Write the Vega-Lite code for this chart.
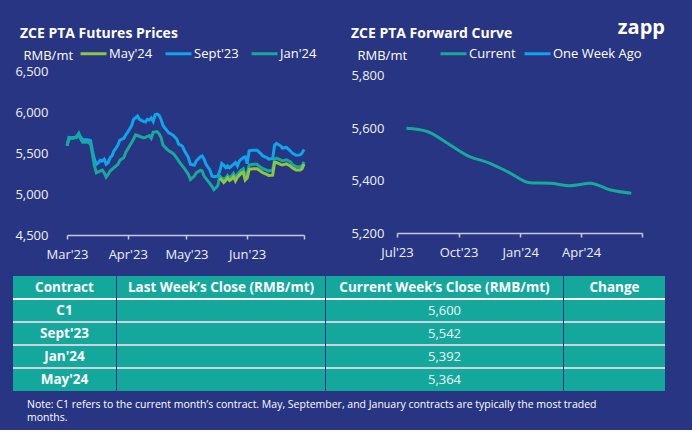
{
  "$schema": "https://vega.github.io/schema/vega-lite/v6.json",
  "background": "#283583",
  "padding": {"left": 13, "top": 18, "right": 27, "bottom": 6},
  "title": {"text": "zapp", "anchor": "end", "orient": "top", "frame": "bounds", "offset": -11, "font": "Open Sans", "fontSize": 20, "fontWeight": "bold", "color": "#ffffff"},
  "datasets": {
    "futures": [
      {"date": "2023-03-01", "contract": "Sept'23", "price": 5588},
      {"date": "2023-03-02", "contract": "Sept'23", "price": 5691},
      {"date": "2023-03-03", "contract": "Sept'23", "price": 5687},
      {"date": "2023-03-05", "contract": "Sept'23", "price": 5691},
      {"date": "2023-03-06", "contract": "Sept'23", "price": 5704},
      {"date": "2023-03-07", "contract": "Sept'23", "price": 5741},
      {"date": "2023-03-08", "contract": "Sept'23", "price": 5691},
      {"date": "2023-03-09", "contract": "Sept'23", "price": 5663},
      {"date": "2023-03-11", "contract": "Sept'23", "price": 5663},
      {"date": "2023-03-12", "contract": "Sept'23", "price": 5659},
      {"date": "2023-03-13", "contract": "Sept'23", "price": 5650},
      {"date": "2023-03-14", "contract": "Sept'23", "price": 5527},
      {"date": "2023-03-15", "contract": "Sept'23", "price": 5424},
      {"date": "2023-03-16", "contract": "Sept'23", "price": 5362},
      {"date": "2023-03-17", "contract": "Sept'23", "price": 5383},
      {"date": "2023-03-18", "contract": "Sept'23", "price": 5411},
      {"date": "2023-03-19", "contract": "Sept'23", "price": 5403},
      {"date": "2023-03-20", "contract": "Sept'23", "price": 5424},
      {"date": "2023-03-21", "contract": "Sept'23", "price": 5362},
      {"date": "2023-03-22", "contract": "Sept'23", "price": 5383},
      {"date": "2023-03-23", "contract": "Sept'23", "price": 5444},
      {"date": "2023-03-24", "contract": "Sept'23", "price": 5465},
      {"date": "2023-03-25", "contract": "Sept'23", "price": 5527},
      {"date": "2023-03-26", "contract": "Sept'23", "price": 5560},
      {"date": "2023-03-27", "contract": "Sept'23", "price": 5597},
      {"date": "2023-03-28", "contract": "Sept'23", "price": 5658},
      {"date": "2023-03-30", "contract": "Sept'23", "price": 5679},
      {"date": "2023-03-31", "contract": "Sept'23", "price": 5720},
      {"date": "2023-04-01", "contract": "Sept'23", "price": 5753},
      {"date": "2023-04-03", "contract": "Sept'23", "price": 5835},
      {"date": "2023-04-04", "contract": "Sept'23", "price": 5910},
      {"date": "2023-04-06", "contract": "Sept'23", "price": 5951},
      {"date": "2023-04-07", "contract": "Sept'23", "price": 5910},
      {"date": "2023-04-09", "contract": "Sept'23", "price": 5885},
      {"date": "2023-04-10", "contract": "Sept'23", "price": 5877},
      {"date": "2023-04-11", "contract": "Sept'23", "price": 5910},
      {"date": "2023-04-12", "contract": "Sept'23", "price": 5901},
      {"date": "2023-04-13", "contract": "Sept'23", "price": 5926},
      {"date": "2023-04-14", "contract": "Sept'23", "price": 5885},
      {"date": "2023-04-15", "contract": "Sept'23", "price": 5967},
      {"date": "2023-04-16", "contract": "Sept'23", "price": 5975},
      {"date": "2023-04-17", "contract": "Sept'23", "price": 5959},
      {"date": "2023-04-18", "contract": "Sept'23", "price": 5910},
      {"date": "2023-04-19", "contract": "Sept'23", "price": 5835},
      {"date": "2023-04-21", "contract": "Sept'23", "price": 5774},
      {"date": "2023-04-22", "contract": "Sept'23", "price": 5745},
      {"date": "2023-04-24", "contract": "Sept'23", "price": 5720},
      {"date": "2023-04-26", "contract": "Sept'23", "price": 5671},
      {"date": "2023-04-27", "contract": "Sept'23", "price": 5609},
      {"date": "2023-04-28", "contract": "Sept'23", "price": 5597},
      {"date": "2023-04-29", "contract": "Sept'23", "price": 5580},
      {"date": "2023-04-30", "contract": "Sept'23", "price": 5527},
      {"date": "2023-05-02", "contract": "Sept'23", "price": 5444},
      {"date": "2023-05-03", "contract": "Sept'23", "price": 5362},
      {"date": "2023-05-05", "contract": "Sept'23", "price": 5350},
      {"date": "2023-05-06", "contract": "Sept'23", "price": 5403},
      {"date": "2023-05-08", "contract": "Sept'23", "price": 5453},
      {"date": "2023-05-09", "contract": "Sept'23", "price": 5465},
      {"date": "2023-05-10", "contract": "Sept'23", "price": 5424},
      {"date": "2023-05-11", "contract": "Sept'23", "price": 5362},
      {"date": "2023-05-13", "contract": "Sept'23", "price": 5292},
      {"date": "2023-05-14", "contract": "Sept'23", "price": 5218},
      {"date": "2023-05-15", "contract": "Sept'23", "price": 5210},
      {"date": "2023-05-17", "contract": "Sept'23", "price": 5218},
      {"date": "2023-05-18", "contract": "Sept'23", "price": 5280},
      {"date": "2023-05-19", "contract": "Sept'23", "price": 5374},
      {"date": "2023-05-20", "contract": "Sept'23", "price": 5354},
      {"date": "2023-05-21", "contract": "Sept'23", "price": 5321},
      {"date": "2023-05-22", "contract": "Sept'23", "price": 5341},
      {"date": "2023-05-23", "contract": "Sept'23", "price": 5321},
      {"date": "2023-05-25", "contract": "Sept'23", "price": 5362},
      {"date": "2023-05-26", "contract": "Sept'23", "price": 5383},
      {"date": "2023-05-27", "contract": "Sept'23", "price": 5341},
      {"date": "2023-05-28", "contract": "Sept'23", "price": 5403},
      {"date": "2023-05-30", "contract": "Sept'23", "price": 5444},
      {"date": "2023-05-31", "contract": "Sept'23", "price": 5453},
      {"date": "2023-06-01", "contract": "Sept'23", "price": 5370},
      {"date": "2023-06-02", "contract": "Sept'23", "price": 5527},
      {"date": "2023-06-04", "contract": "Sept'23", "price": 5535},
      {"date": "2023-06-06", "contract": "Sept'23", "price": 5535},
      {"date": "2023-06-07", "contract": "Sept'23", "price": 5514},
      {"date": "2023-06-09", "contract": "Sept'23", "price": 5465},
      {"date": "2023-06-11", "contract": "Sept'23", "price": 5444},
      {"date": "2023-06-12", "contract": "Sept'23", "price": 5424},
      {"date": "2023-06-14", "contract": "Sept'23", "price": 5432},
      {"date": "2023-06-15", "contract": "Sept'23", "price": 5597},
      {"date": "2023-06-16", "contract": "Sept'23", "price": 5617},
      {"date": "2023-06-18", "contract": "Sept'23", "price": 5588},
      {"date": "2023-06-19", "contract": "Sept'23", "price": 5560},
      {"date": "2023-06-21", "contract": "Sept'23", "price": 5568},
      {"date": "2023-06-23", "contract": "Sept'23", "price": 5527},
      {"date": "2023-06-24", "contract": "Sept'23", "price": 5498},
      {"date": "2023-06-26", "contract": "Sept'23", "price": 5473},
      {"date": "2023-06-28", "contract": "Sept'23", "price": 5477},
      {"date": "2023-06-29", "contract": "Sept'23", "price": 5498},
      {"date": "2023-06-30", "contract": "Sept'23", "price": 5542},
      {"date": "2023-03-01", "contract": "Jan'24", "price": 5588},
      {"date": "2023-03-02", "contract": "Jan'24", "price": 5671},
      {"date": "2023-03-04", "contract": "Jan'24", "price": 5679},
      {"date": "2023-03-06", "contract": "Jan'24", "price": 5691},
      {"date": "2023-03-07", "contract": "Jan'24", "price": 5733},
      {"date": "2023-03-08", "contract": "Jan'24", "price": 5671},
      {"date": "2023-03-09", "contract": "Jan'24", "price": 5630},
      {"date": "2023-03-12", "contract": "Jan'24", "price": 5630},
      {"date": "2023-03-13", "contract": "Jan'24", "price": 5609},
      {"date": "2023-03-14", "contract": "Jan'24", "price": 5486},
      {"date": "2023-03-15", "contract": "Jan'24", "price": 5341},
      {"date": "2023-03-16", "contract": "Jan'24", "price": 5259},
      {"date": "2023-03-17", "contract": "Jan'24", "price": 5271},
      {"date": "2023-03-19", "contract": "Jan'24", "price": 5292},
      {"date": "2023-03-20", "contract": "Jan'24", "price": 5259},
      {"date": "2023-03-21", "contract": "Jan'24", "price": 5206},
      {"date": "2023-03-22", "contract": "Jan'24", "price": 5239},
      {"date": "2023-03-23", "contract": "Jan'24", "price": 5280},
      {"date": "2023-03-25", "contract": "Jan'24", "price": 5321},
      {"date": "2023-03-27", "contract": "Jan'24", "price": 5362},
      {"date": "2023-03-28", "contract": "Jan'24", "price": 5411},
      {"date": "2023-03-30", "contract": "Jan'24", "price": 5444},
      {"date": "2023-03-31", "contract": "Jan'24", "price": 5506},
      {"date": "2023-04-02", "contract": "Jan'24", "price": 5588},
      {"date": "2023-04-04", "contract": "Jan'24", "price": 5671},
      {"date": "2023-04-05", "contract": "Jan'24", "price": 5720},
      {"date": "2023-04-07", "contract": "Jan'24", "price": 5704},
      {"date": "2023-04-09", "contract": "Jan'24", "price": 5683},
      {"date": "2023-04-10", "contract": "Jan'24", "price": 5691},
      {"date": "2023-04-12", "contract": "Jan'24", "price": 5712},
      {"date": "2023-04-13", "contract": "Jan'24", "price": 5679},
      {"date": "2023-04-14", "contract": "Jan'24", "price": 5753},
      {"date": "2023-04-16", "contract": "Jan'24", "price": 5761},
      {"date": "2023-04-17", "contract": "Jan'24", "price": 5733},
      {"date": "2023-04-18", "contract": "Jan'24", "price": 5691},
      {"date": "2023-04-19", "contract": "Jan'24", "price": 5597},
      {"date": "2023-04-21", "contract": "Jan'24", "price": 5547},
      {"date": "2023-04-22", "contract": "Jan'24", "price": 5527},
      {"date": "2023-04-24", "contract": "Jan'24", "price": 5498},
      {"date": "2023-04-25", "contract": "Jan'24", "price": 5473},
      {"date": "2023-04-27", "contract": "Jan'24", "price": 5403},
      {"date": "2023-04-28", "contract": "Jan'24", "price": 5370},
      {"date": "2023-04-30", "contract": "Jan'24", "price": 5309},
      {"date": "2023-05-02", "contract": "Jan'24", "price": 5239},
      {"date": "2023-05-03", "contract": "Jan'24", "price": 5177},
      {"date": "2023-05-05", "contract": "Jan'24", "price": 5218},
      {"date": "2023-05-06", "contract": "Jan'24", "price": 5259},
      {"date": "2023-05-08", "contract": "Jan'24", "price": 5288},
      {"date": "2023-05-09", "contract": "Jan'24", "price": 5280},
      {"date": "2023-05-10", "contract": "Jan'24", "price": 5218},
      {"date": "2023-05-12", "contract": "Jan'24", "price": 5156},
      {"date": "2023-05-14", "contract": "Jan'24", "price": 5094},
      {"date": "2023-05-15", "contract": "Jan'24", "price": 5053},
      {"date": "2023-05-16", "contract": "Jan'24", "price": 5074},
      {"date": "2023-05-17", "contract": "Jan'24", "price": 5103},
      {"date": "2023-05-18", "contract": "Jan'24", "price": 5218},
      {"date": "2023-05-19", "contract": "Jan'24", "price": 5197},
      {"date": "2023-05-20", "contract": "Jan'24", "price": 5177},
      {"date": "2023-05-21", "contract": "Jan'24", "price": 5197},
      {"date": "2023-05-22", "contract": "Jan'24", "price": 5226},
      {"date": "2023-05-23", "contract": "Jan'24", "price": 5197},
      {"date": "2023-05-24", "contract": "Jan'24", "price": 5218},
      {"date": "2023-05-25", "contract": "Jan'24", "price": 5251},
      {"date": "2023-05-26", "contract": "Jan'24", "price": 5197},
      {"date": "2023-05-27", "contract": "Jan'24", "price": 5239},
      {"date": "2023-05-28", "contract": "Jan'24", "price": 5267},
      {"date": "2023-05-29", "contract": "Jan'24", "price": 5292},
      {"date": "2023-05-30", "contract": "Jan'24", "price": 5309},
      {"date": "2023-05-31", "contract": "Jan'24", "price": 5218},
      {"date": "2023-06-01", "contract": "Jan'24", "price": 5239},
      {"date": "2023-06-02", "contract": "Jan'24", "price": 5354},
      {"date": "2023-06-04", "contract": "Jan'24", "price": 5362},
      {"date": "2023-06-06", "contract": "Jan'24", "price": 5362},
      {"date": "2023-06-07", "contract": "Jan'24", "price": 5341},
      {"date": "2023-06-09", "contract": "Jan'24", "price": 5309},
      {"date": "2023-06-11", "contract": "Jan'24", "price": 5292},
      {"date": "2023-06-12", "contract": "Jan'24", "price": 5280},
      {"date": "2023-06-14", "contract": "Jan'24", "price": 5292},
      {"date": "2023-06-15", "contract": "Jan'24", "price": 5424},
      {"date": "2023-06-16", "contract": "Jan'24", "price": 5436},
      {"date": "2023-06-18", "contract": "Jan'24", "price": 5416},
      {"date": "2023-06-19", "contract": "Jan'24", "price": 5403},
      {"date": "2023-06-21", "contract": "Jan'24", "price": 5416},
      {"date": "2023-06-23", "contract": "Jan'24", "price": 5395},
      {"date": "2023-06-24", "contract": "Jan'24", "price": 5362},
      {"date": "2023-06-26", "contract": "Jan'24", "price": 5333},
      {"date": "2023-06-28", "contract": "Jan'24", "price": 5333},
      {"date": "2023-06-29", "contract": "Jan'24", "price": 5341},
      {"date": "2023-06-30", "contract": "Jan'24", "price": 5392},
      {"date": "2023-05-18", "contract": "May'24", "price": 5190},
      {"date": "2023-05-19", "contract": "May'24", "price": 5170},
      {"date": "2023-05-20", "contract": "May'24", "price": 5140},
      {"date": "2023-05-21", "contract": "May'24", "price": 5165},
      {"date": "2023-05-22", "contract": "May'24", "price": 5195},
      {"date": "2023-05-23", "contract": "May'24", "price": 5165},
      {"date": "2023-05-24", "contract": "May'24", "price": 5180},
      {"date": "2023-05-25", "contract": "May'24", "price": 5210},
      {"date": "2023-05-26", "contract": "May'24", "price": 5160},
      {"date": "2023-05-27", "contract": "May'24", "price": 5205},
      {"date": "2023-05-28", "contract": "May'24", "price": 5230},
      {"date": "2023-05-29", "contract": "May'24", "price": 5255},
      {"date": "2023-05-30", "contract": "May'24", "price": 5265},
      {"date": "2023-05-31", "contract": "May'24", "price": 5170},
      {"date": "2023-06-01", "contract": "May'24", "price": 5195},
      {"date": "2023-06-02", "contract": "May'24", "price": 5300},
      {"date": "2023-06-04", "contract": "May'24", "price": 5309},
      {"date": "2023-06-06", "contract": "May'24", "price": 5309},
      {"date": "2023-06-07", "contract": "May'24", "price": 5292},
      {"date": "2023-06-09", "contract": "May'24", "price": 5259},
      {"date": "2023-06-11", "contract": "May'24", "price": 5239},
      {"date": "2023-06-12", "contract": "May'24", "price": 5226},
      {"date": "2023-06-14", "contract": "May'24", "price": 5230},
      {"date": "2023-06-15", "contract": "May'24", "price": 5383},
      {"date": "2023-06-16", "contract": "May'24", "price": 5383},
      {"date": "2023-06-18", "contract": "May'24", "price": 5362},
      {"date": "2023-06-19", "contract": "May'24", "price": 5355},
      {"date": "2023-06-21", "contract": "May'24", "price": 5368},
      {"date": "2023-06-23", "contract": "May'24", "price": 5341},
      {"date": "2023-06-24", "contract": "May'24", "price": 5321},
      {"date": "2023-06-26", "contract": "May'24", "price": 5292},
      {"date": "2023-06-28", "contract": "May'24", "price": 5292},
      {"date": "2023-06-29", "contract": "May'24", "price": 5309},
      {"date": "2023-06-30", "contract": "May'24", "price": 5364}
    ],
    "curve": [
      {"month": "2023-07-15", "series": "Current", "price": 5600},
      {"month": "2023-08-15", "series": "Current", "price": 5588},
      {"month": "2023-09-15", "series": "Current", "price": 5542},
      {"month": "2023-10-15", "series": "Current", "price": 5495},
      {"month": "2023-11-15", "series": "Current", "price": 5468},
      {"month": "2023-12-15", "series": "Current", "price": 5432},
      {"month": "2024-01-15", "series": "Current", "price": 5392},
      {"month": "2024-02-15", "series": "Current", "price": 5390},
      {"month": "2024-03-15", "series": "Current", "price": 5381},
      {"month": "2024-04-15", "series": "Current", "price": 5390},
      {"month": "2024-05-15", "series": "Current", "price": 5364},
      {"month": "2024-06-15", "series": "Current", "price": 5352}
    ],
    "table": [
      {"row": "header", "contract": "Contract", "last": "Last Week’s Close (RMB/mt)", "current": "Current Week’s Close (RMB/mt)", "change": "Change"},
      {"row": "C1", "contract": "C1", "last": "", "current": "5,600", "change": ""},
      {"row": "Sept'23", "contract": "Sept'23", "last": "", "current": "5,542", "change": ""},
      {"row": "Jan'24", "contract": "Jan'24", "last": "", "current": "5,392", "change": ""},
      {"row": "May'24", "contract": "May'24", "last": "", "current": "5,364", "change": ""}
    ]
  },
  "spacing": 15,
  "vconcat": [
    {
      "spacing": 33,
      "resolve": {"scale": {"color": "independent"}, "legend": {"color": "independent"}},
      "hconcat": [
        {
          "spacing": 0,
          "resolve": {"scale": {"color": "independent"}, "legend": {"color": "independent"}},
          "hconcat": [
            {"width": 1, "height": 1, "data": {"values": []}, "mark": "point"},
            {
              "width": 237,
              "height": 164,
              "title": {"text": "ZCE PTA Futures Prices", "anchor": "start", "offset": -2, "dx": 5},
              "data": {"name": "futures"},
              "mark": {"type": "line", "strokeWidth": 3},
              "encoding": {
                "x": {
                  "field": "date", "type": "temporal", "title": null,
                  "scale": {"type": "utc", "domain": [{"year": 2023, "month": 3, "date": 1, "utc": true}, {"year": 2023, "month": 6, "date": 30, "utc": true}]},
                  "axis": {
                    "values": [{"year": 2023, "month": 3, "date": 1, "utc": true}, {"year": 2023, "month": 4, "date": 1, "utc": true}, {"year": 2023, "month": 5, "date": 1, "utc": true}, {"year": 2023, "month": 6, "date": 1, "utc": true}, {"year": 2023, "month": 6, "date": 30, "utc": true}],
                    "labelExpr": "datum.index === 1 ? '' : utcFormat(datum.value, \"%b'%y\")",
                    "labelOverlap": false, "labelFlush": false, "tickSize": 4, "labelPadding": 9
                  }
                },
                "y": {
                  "field": "price", "type": "quantitative", "title": "RMB/mt",
                  "scale": {"domain": [4500, 6500], "nice": false, "zero": false},
                  "axis": {"values": [4500, 5000, 5500, 6000, 6500], "labelExpr": "format(datum.value, ',')", "domain": false, "ticks": false, "labelPadding": 19, "titleAngle": 0, "titleX": -44, "titleY": -16, "titleAlign": "left", "titleBaseline": "middle"}
                },
                "color": {
                  "field": "contract", "type": "nominal",
                  "scale": {"domain": ["May'24", "Sept'23", "Jan'24"], "range": ["#8dc63f", "#0ea5e9", "#17a99a"]},
                  "legend": {"orient": "none", "legendX": 12, "legendY": -32, "direction": "horizontal", "title": null, "columnPadding": 6}
                }
              }
            }
          ]
        },
        {
          "width": 245,
          "height": 162,
          "title": {"text": "ZCE PTA Forward Curve", "anchor": "start", "offset": -2},
          "data": {"name": "curve"},
          "mark": {"type": "line", "strokeWidth": 3, "interpolate": "monotone"},
          "encoding": {
            "x": {
              "field": "month", "type": "temporal", "title": null,
              "scale": {"type": "utc", "domain": [{"year": 2023, "month": 7, "date": 1, "utc": true}, {"year": 2024, "month": 7, "date": 1, "utc": true}]},
              "axis": {
                "values": [{"year": 2023, "month": 7, "date": 1, "utc": true}, {"year": 2023, "month": 10, "date": 1, "utc": true}, {"year": 2024, "month": 1, "date": 1, "utc": true}, {"year": 2024, "month": 4, "date": 1, "utc": true}, {"year": 2024, "month": 7, "date": 1, "utc": true}],
                "labelExpr": "datum.index === 1 ? '' : utcFormat(datum.value, \"%b'%y\")",
                "labelOverlap": false, "labelFlush": false, "tickSize": 4, "labelPadding": 9
              }
            },
            "y": {
              "field": "price", "type": "quantitative", "title": "RMB/mt",
              "scale": {"domain": [5200, 5819], "nice": false, "zero": false},
              "axis": {"values": [5200, 5400, 5600, 5800], "labelExpr": "format(datum.value, ',')", "domain": false, "ticks": false, "labelPadding": 13, "titleAngle": 0, "titleX": -40, "titleY": -16, "titleAlign": "left", "titleBaseline": "middle"}
            },
            "color": {
              "field": "series", "type": "nominal",
              "scale": {"domain": ["Current", "One Week Ago"], "range": ["#17a99a", "#0ea5e9"]},
              "legend": {"orient": "none", "legendX": 42, "legendY": -32, "direction": "horizontal", "title": null, "columnPadding": 2}
            }
          }
        }
      ]
    },
    {
      "spacing": 1,
      "title": {"text": ["Note: C1 refers to the current month’s contract. May, September, and January contracts are typically the most traded", "months."], "orient": "bottom", "anchor": "start", "frame": "bounds", "dx": 14, "offset": 9, "font": "Open Sans", "fontSize": 10.5, "fontWeight": "normal", "lineHeight": 13, "color": "#ffffff"},
      "hconcat": [
        {
          "width": 103, "height": 115,
          "view": {"fill": "#14a89d"},
          "data": {"name": "table"},
          "encoding": {"y": {"field": "row", "type": "nominal", "sort": null, "axis": null, "scale": {"domain": ["header", "C1", "Sept'23", "Jan'24", "May'24"], "paddingInner": 0, "paddingOuter": 0}}},
          "layer": [
            {"transform": [{"filter": "datum.row !== 'header'"}], "mark": {"type": "rule", "strokeWidth": 2, "clip": true}, "encoding": {"y": {"field": "row", "type": "nominal", "bandPosition": 0, "axis": null}, "color": {"condition": {"test": "datum.row === 'C1'", "value": "#ffffff"}, "value": "#cdd3dd"}}},
            {"transform": [{"filter": "datum.row === 'header'"}], "mark": {"type": "text", "font": "Open Sans", "fontSize": 13.5, "fontWeight": "bold", "color": "#ffffff"}, "encoding": {"text": {"field": "contract"}}},
            {"transform": [{"filter": "datum.row !== 'header'"}], "mark": {"type": "text", "font": "Open Sans", "fontSize": 13.5, "fontWeight": "bold", "color": "#ffffff"}, "encoding": {"text": {"field": "contract"}}}
          ]
        },
        {
          "width": 208, "height": 115,
          "view": {"fill": "#14a89d"},
          "data": {"name": "table"},
          "encoding": {"y": {"field": "row", "type": "nominal", "sort": null, "axis": null, "scale": {"domain": ["header", "C1", "Sept'23", "Jan'24", "May'24"], "paddingInner": 0, "paddingOuter": 0}}},
          "layer": [
            {"transform": [{"filter": "datum.row !== 'header'"}], "mark": {"type": "rule", "strokeWidth": 2, "clip": true}, "encoding": {"y": {"field": "row", "type": "nominal", "bandPosition": 0, "axis": null}, "color": {"condition": {"test": "datum.row === 'C1'", "value": "#ffffff"}, "value": "#cdd3dd"}}},
            {"transform": [{"filter": "datum.row === 'header'"}], "mark": {"type": "text", "font": "Open Sans", "fontSize": 13.5, "fontWeight": "bold", "color": "#ffffff"}, "encoding": {"text": {"field": "last"}}}
          ]
        },
        {
          "width": 237, "height": 115,
          "view": {"fill": "#14a89d"},
          "data": {"name": "table"},
          "encoding": {"y": {"field": "row", "type": "nominal", "sort": null, "axis": null, "scale": {"domain": ["header", "C1", "Sept'23", "Jan'24", "May'24"], "paddingInner": 0, "paddingOuter": 0}}},
          "layer": [
            {"transform": [{"filter": "datum.row !== 'header'"}], "mark": {"type": "rule", "strokeWidth": 2, "clip": true}, "encoding": {"y": {"field": "row", "type": "nominal", "bandPosition": 0, "axis": null}, "color": {"condition": {"test": "datum.row === 'C1'", "value": "#ffffff"}, "value": "#cdd3dd"}}},
            {"transform": [{"filter": "datum.row === 'header'"}], "mark": {"type": "text", "font": "Open Sans", "fontSize": 13.5, "fontWeight": "bold", "color": "#ffffff"}, "encoding": {"text": {"field": "current"}}},
            {"transform": [{"filter": "datum.row !== 'header'"}], "mark": {"type": "text", "font": "Open Sans", "fontSize": 13, "color": "#eef6f5"}, "encoding": {"text": {"field": "current"}}}
          ]
        },
        {
          "width": 101, "height": 115,
          "view": {"fill": "#14a89d"},
          "data": {"name": "table"},
          "encoding": {"y": {"field": "row", "type": "nominal", "sort": null, "axis": null, "scale": {"domain": ["header", "C1", "Sept'23", "Jan'24", "May'24"], "paddingInner": 0, "paddingOuter": 0}}},
          "layer": [
            {"transform": [{"filter": "datum.row !== 'header'"}], "mark": {"type": "rule", "strokeWidth": 2, "clip": true}, "encoding": {"y": {"field": "row", "type": "nominal", "bandPosition": 0, "axis": null}, "color": {"condition": {"test": "datum.row === 'C1'", "value": "#ffffff"}, "value": "#cdd3dd"}}},
            {"transform": [{"filter": "datum.row === 'header'"}], "mark": {"type": "text", "font": "Open Sans", "fontSize": 13.5, "fontWeight": "bold", "color": "#ffffff"}, "encoding": {"text": {"field": "change"}}}
          ]
        }
      ]
    }
  ],
  "config": {
    "font": "Open Sans",
    "view": {"stroke": null},
    "axis": {"labelFont": "Open Sans", "labelFontSize": 13, "labelColor": "#eef0f7", "domainColor": "#c5c9da", "tickColor": "#c5c9da", "domainWidth": 1.5, "tickWidth": 1.5, "grid": false, "titleFont": "Open Sans", "titleFontSize": 13, "titleFontWeight": "normal", "titleColor": "#ffffff"},
    "title": {"font": "Open Sans", "fontSize": 14, "fontWeight": "bold", "color": "#ffffff"},
    "legend": {"labelFont": "Open Sans", "labelFontSize": 13, "labelColor": "#ffffff", "symbolType": "stroke", "symbolStrokeWidth": 3, "symbolSize": 676, "labelOffset": 1, "padding": 0}
  }
}
